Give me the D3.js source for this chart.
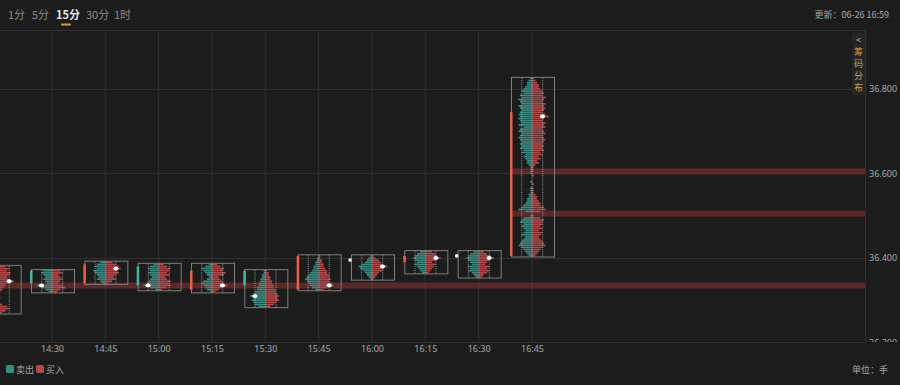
<!DOCTYPE html>
<html lang="zh">
<head>
<meta charset="UTF-8">
<title>15分 足迹</title>
<script src="https://cdn.jsdelivr.net/npm/d3@7"></script>
<style>
html, body { margin: 0; padding: 0; background: #1c1c1c; overflow: hidden; }
body { font-family: "Noto Sans CJK SC", "Noto Sans", sans-serif; }
</style>
</head>
<body>
<svg id="chart" width="900" height="385"></svg>
<script>
// bar data, one entry per 15 min bar
const times  = ['14:15','14:30','14:45','15:00','15:15','15:30','15:45','16:00','16:15','16:30','16:45']
const highs  = [36.380, 36.370, 36.390, 36.385, 36.385, 36.370, 36.405, 36.405, 36.415, 36.415, 36.825]
const lows   = [36.270, 36.320, 36.340, 36.325, 36.320, 36.285, 36.325, 36.350, 36.365, 36.355, 36.405]
const opens  = [36.300, 36.370, 36.340, 36.380, 36.325, 36.370, 36.325, 36.395, 36.390, 36.405, 36.405]
const closes = [36.350, 36.340, 36.385, 36.335, 36.370, 36.335, 36.405, 36.395, 36.405, 36.405, 36.745]
const tick = 0.005

// volume per price row, top (high) to bottom (low)
const sells = [
  [2,3,3,4,3,2,3,4,3,2,2,1,0,0,1,0,0,0,1,2,3,2,1],
  [5,6,5,4,5,4,3,9,6,4,2],
  [3,5,6,5,7,6,5,4,5,3,2],
  [3,5,6,5,6,5,4,5,6,7,9,5,2],
  [2,4,6,5,4,3,2,3,5,6,5,4,3,1],
  [1,1,2,2,3,3,4,4,5,5,6,7,9,7,8,7,6,4],
  [0,1,1,2,2,3,3,4,5,6,7,8,7,6,5,4,2],
  [1,2,3,4,6,8,7,5,4,3,2,1],
  [3,5,6,7,6,5,6,5,4,3,2],
  [3,5,6,7,6,5,4,6,5,6,4,3,2],
  [1,2,3,3,4, 5,6,5,7,6,8,7,6,8,7,6,7,8, 7, 8,7,6,8,5,7,8,6,7,8,7,6,
   7,6,7,5,6,4,5,4,3,3,2, 1,1,1,1,0,0,0,1,0,0,1, 1,1,2,2,3,3,4,5,6,8, 4,0,1,
   5,6,7,5,6,5,4,5,6,4,5,6,7,8,6,5,4,3,2]
]
const buys = [
  [4,6,5,7,6,5,6,9,5,4,3,2,1,0,0,1,0,0,2,5,6,4,2],
  [5,6,4,5,6,5,4,6,8,5,3],
  [4,6,8,9,7,8,6,5,6,4,2],
  [3,5,7,6,5,6,4,5,7,6,7,5,2],
  [3,5,7,6,8,7,4,5,6,7,9,6,4,2],
  [1,2,2,3,3,4,4,5,5,6,6,7,8,7,8,6,5,3],
  [1,1,2,2,3,3,4,5,5,6,6,7,6,8,9,5,3],
  [1,2,4,5,6,9,7,6,4,3,2,1],
  [4,6,7,9,6,4,6,5,4,3,2],
  [3,5,7,9,6,5,4,6,5,6,5,3,2],
  [1,2,3,4,4, 5,6,7,6,8,7,6,8,7,8,7,6,8, 10, 7,6,8,7,8,6,7,8,6,7,8,7,
   6,7,6,7,5,6,4,5,3,4,2, 1,1,1,0,1,0,0,0,1,0,1, 1,1,2,3,3,4,5,5,7,8, 5,0,1,
   5,7,6,6,5,6,4,6,5,4,5,6,7,8,6,5,4,3,2]
]

// heavy volume price levels and the bar they start from
const bandPrices = [36.335, 36.605, 36.505]
const bandFrom   = [0, 10, 10]

const yTicks = [36.2, 36.4, 36.6, 36.8]
const xTicks = ['14:30','14:45','15:00','15:15','15:30','15:45','16:00','16:15','16:30','16:45']
const tabs = ['1分','5分','15分','30分','1时']

const colors = { sell: '#3b8a82', buy: '#b0494a', up: '#e8604c', down: '#47b5a6', grid: '#303030', text: '#a8a8a8' }

const toMin = t => { const [h, m] = t.split(':'); return +h * 60 + +m }

const plot = { left: 0, right: 865, top: 30, bottom: 342 }

const svg = d3.select('#chart')
const x = d3.scaleLinear().domain([toMin('14:30'), toMin('16:45')]).range([52, 532])
const y = d3.scaleLinear().domain([36.2, 36.8]).range([342.5, 89])
const vol = d3.scaleLinear().domain([0, 10]).range([0, 17])
const rowH = y(0) - y(tick)

const defs = svg.append('defs')
defs.append('clipPath').attr('id', 'plotClip')
  .append('rect').attr('x', plot.left).attr('y', plot.top)
  .attr('width', plot.right - plot.left).attr('height', plot.bottom - plot.top)
// local coords of the y axis group
defs.append('clipPath').attr('id', 'yClip')
  .append('rect').attr('x', 0).attr('y', plot.top).attr('width', 40).attr('height', plot.bottom - plot.top)

// top tabs
const tabX = [8, 32, 56, 86, 114]
svg.selectAll('.tab').data(tabs).enter().append('text')
  .attr('x', (d, i) => tabX[i]).attr('y', 19)
  .style('font-size', '11px')
  .style('font-weight', d => d === '15分' ? 'bold' : 'normal')
  .style('fill', d => d === '15分' ? '#e6e6e6' : '#8c8c8c')
  .text(d => d)
svg.append('rect').attr('x', 61).attr('y', 23.5).attr('width', 10).attr('height', 2)
  .attr('rx', 1).style('fill', '#d99a3c')

svg.append('text').attr('x', 889).attr('y', 18).attr('text-anchor', 'end')
  .style('font-size', '9px').style('fill', colors.text).text('更新：06-26 16:59')

// grid
const grid = svg.append('g')
grid.selectAll('.vg').data(xTicks).enter().append('line')
  .attr('x1', d => x(toMin(d))).attr('x2', d => x(toMin(d)))
  .attr('y1', plot.top).attr('y2', plot.bottom)
  .style('stroke', colors.grid).style('stroke-width', 1)
grid.selectAll('.hg').data(yTicks.filter(d => d > 36.2)).enter().append('line')
  .attr('x1', plot.left).attr('x2', plot.right)
  .attr('y1', d => Math.round(y(d)) + 0.5).attr('y2', d => Math.round(y(d)) + 0.5)
  .style('stroke', colors.grid)
grid.append('line').attr('x1', 0).attr('x2', plot.right).attr('y1', plot.top + 0.5).attr('y2', plot.top + 0.5).style('stroke', colors.grid)
grid.append('line').attr('x1', 0).attr('x2', plot.right).attr('y1', plot.bottom + 0.5).attr('y2', plot.bottom + 0.5).style('stroke', colors.grid)
grid.append('line').attr('x1', plot.right + 0.5).attr('x2', plot.right + 0.5).attr('y1', plot.top).attr('y2', plot.bottom).style('stroke', colors.grid)

// y axis labels (clipped at the bottom like the original)
const yAxis = svg.append('g').attr('transform', `translate(${plot.right},0)`).attr('clip-path', 'url(#yClip)')
  .call(d3.axisRight(y).tickValues(yTicks).tickFormat(d3.format('.3f')).tickSize(0).tickPadding(4))
yAxis.select('.domain').remove()
yAxis.selectAll('text').style('fill', colors.text).style('font-size', '9px')
  .style('font-family', '"Noto Sans", sans-serif')

// x axis labels
const xAxis = svg.append('g').attr('transform', `translate(0,${plot.bottom})`)
  .call(d3.axisBottom(x).tickValues(xTicks.map(toMin)).tickFormat((d, i) => xTicks[i]).tickSize(0).tickPadding(4))
xAxis.select('.domain').remove()
xAxis.selectAll('text').style('fill', colors.text).style('font-size', '9px')
  .style('font-family', '"Noto Sans", sans-serif')

// chip distribution button
const btn = svg.append('g')
btn.append('rect').attr('x', 852).attr('y', 33).attr('width', 13).attr('height', 62).style('fill', '#252525')
const btnText = ['<', '筹', '码', '分', '布']
btn.selectAll('text').data(btnText).enter().append('text')
  .attr('x', 858.5).attr('y', (d, i) => 43 + i * 12).attr('text-anchor', 'middle')
  .style('font-size', '9px')
  .style('fill', d => d === '<' ? '#bbbbbb' : '#d49a45')
  .text(d => d)

const chart = svg.append('g').attr('clip-path', 'url(#plotClip)')

// heavy volume bands
chart.selectAll('.band').data(bandPrices).enter().append('rect')
  .attr('x', (d, i) => x(toMin(times[bandFrom[i]])) - 21)
  .attr('width', (d, i) => plot.right - (x(toMin(times[bandFrom[i]])) - 21))
  .attr('y', d => y(d) - 3).attr('height', 6)
  .style('fill', 'rgba(165,55,55,0.45)')

times.forEach((t, b) => {
  const cx = x(toMin(t))
  const g = chart.append('g')
  const rows = sells[b].map((s, i) => ({ price: highs[b] - i * tick, sell: s, buy: buys[b][i] }))

  // outer box high-low
  g.append('rect')
    .attr('x', cx - 21 + 0.5).attr('y', y(highs[b]) - rowH / 2)
    .attr('width', 43).attr('height', y(lows[b]) - y(highs[b]) + rowH)
    .style('fill', 'none').style('stroke', '#7e7e7e').style('stroke-width', 1)

  g.selectAll('.s').data(rows).enter().append('rect')
    .attr('x', d => cx - vol(d.sell)).attr('width', d => vol(d.sell))
    .attr('y', d => y(d.price) - rowH * 0.4).attr('height', rowH * 0.8)
    .style('fill', colors.sell)
  g.selectAll('.b').data(rows).enter().append('rect')
    .attr('x', cx).attr('width', d => vol(d.buy))
    .attr('y', d => y(d.price) - rowH * 0.4).attr('height', rowH * 0.8)
    .style('fill', colors.buy)

  // tiny per-row volume marks in three columns
  ;[-11, -0.5, 10].forEach(off => {
    g.selectAll(null).data(rows).enter().append('rect')
      .attr('x', cx + off).attr('width', 1.3)
      .attr('y', d => y(d.price) - 0.5).attr('height', 1)
      .style('fill', '#c8c8c8').style('opacity', 0.55)
  })

  // open-close line on the box edge
  if (opens[b] === closes[b]) {
    g.append('circle').attr('cx', cx - 22).attr('cy', y(opens[b])).attr('r', 1.8).style('fill', '#f2f2f2')
  } else {
    g.append('rect').attr('x', cx - 22).attr('width', 2.5)
      .attr('y', y(Math.max(opens[b], closes[b]))).attr('height', Math.abs(y(opens[b]) - y(closes[b])))
      .style('fill', closes[b] > opens[b] ? colors.up : colors.down)
  }

  // max volume marker
  const maxSell = d3.max(rows, d => d.sell), maxBuy = d3.max(rows, d => d.buy)
  const side = maxBuy >= maxSell ? 'buy' : 'sell'
  const top = rows.find(d => d[side] === Math.max(maxSell, maxBuy))
  g.append('ellipse').attr('cx', cx + (side === 'buy' ? 10.5 : -10.5)).attr('cy', y(top.price))
    .attr('rx', 2.6).attr('ry', 1.9).style('fill', '#ffffff')
})

// legend
const legend = svg.append('g').attr('transform', 'translate(6,365)')
const legendItems = [{ k: '卖出', c: colors.sell, x: 0 }, { k: '买入', c: colors.buy, x: 30 }]
legend.selectAll('rect').data(legendItems).enter().append('rect')
  .attr('x', d => d.x).attr('y', 0).attr('width', 8).attr('height', 8).attr('rx', 1.5)
  .style('fill', d => d.c)
legend.selectAll('text').data(legendItems).enter().append('text')
  .attr('x', d => d.x + 10).attr('y', 7.5).style('font-size', '9px').style('fill', colors.text)
  .text(d => d.k)

svg.append('text').attr('x', 888).attr('y', 373).attr('text-anchor', 'end')
  .style('font-size', '9px').style('fill', colors.text).text('单位：手')
</script>
</body>
</html>
